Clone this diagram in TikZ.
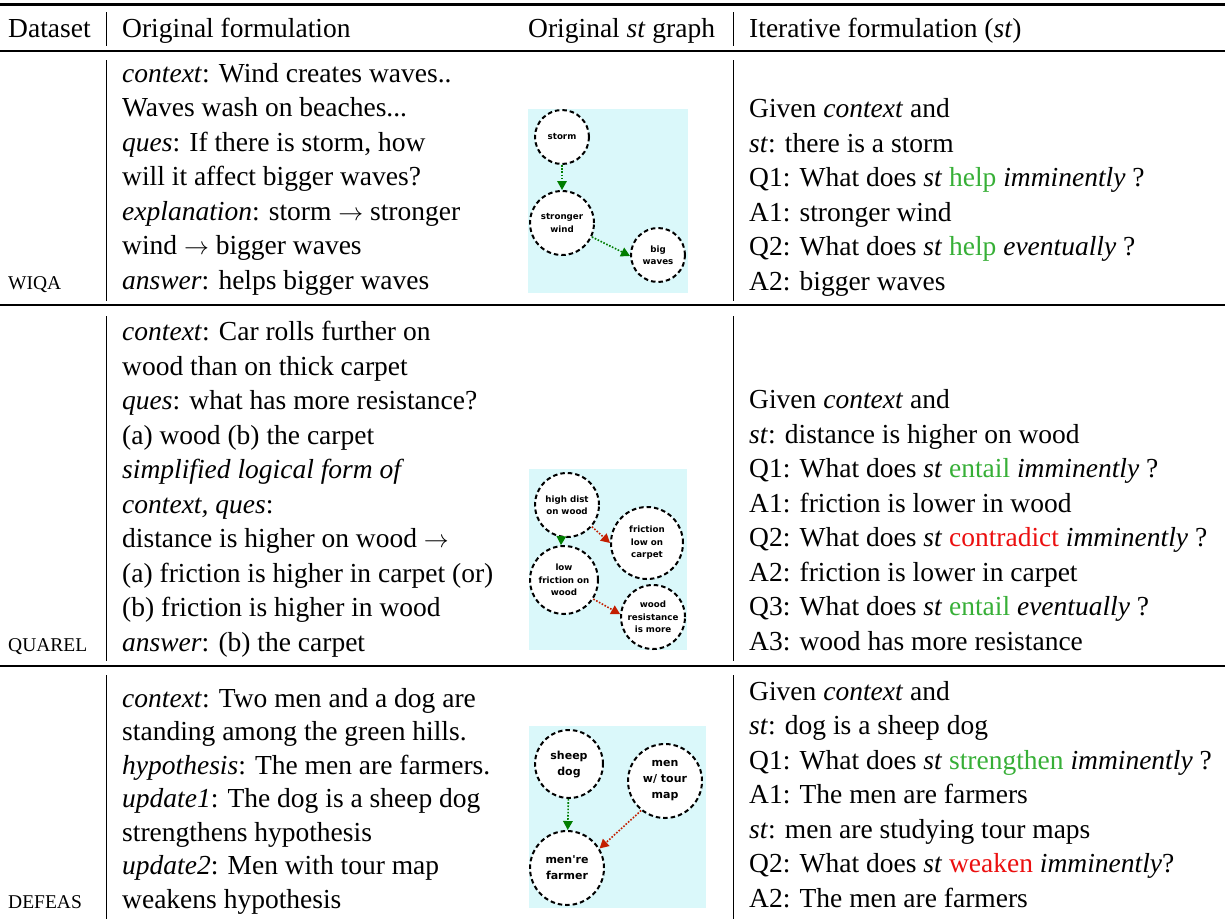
\documentclass[tikz,border=0pt]{standalone}
\usepackage{fontspec}
\setmainfont{Liberation Serif}
\newfontfamily\graphfont{DejaVu Sans}
\usetikzlibrary{positioning, arrows.meta}
\definecolor{graphbg}{RGB}{218,248,250}
\definecolor{arrowgreen}{RGB}{0,125,0}
\definecolor{arrowred}{RGB}{195,30,0}
\definecolor{wordgreen}{RGB}{55,175,55}
\definecolor{wordred}{RGB}{235,15,15}
\tikzstyle{Arrow} = [
%dotted edge with a filled tip
line width = 1.6pt,
dash pattern = on 1.6pt off 1.6pt,
-{Triangle[length = 9pt, width = 9.5pt]}
]
\newcommand{\dset}[1]{{\fontsize{19.5}{20}\selectfont #1}}
\newcommand{\gw}[1]{\textcolor{wordgreen}{#1}}
\newcommand{\rw}[1]{\textcolor{wordred}{#1}}

\begin{document}
\begin{tikzpicture}[x = 1pt, y = -1pt,
				cell/.style = {anchor = base west, align = left, inner sep = 0pt, font = \fontsize{27.5}{34.5}\selectfont},
				rulebar/.style = {line width = 1.5pt},
				colbar/.style = {line width = 0.8pt},
				event/.style = {circle, draw, line width = 2pt, dash pattern = on 4.5pt off 3pt, fill = white, inner sep = 0pt, align = center, font = \graphfont\bfseries\fontsize{8.7}{12.5}\selectfont},
				bigevent/.style = {event, font = \graphfont\bfseries\fontsize{11}{16}\selectfont},
			]
			\useasboundingbox (0,0) rectangle (1225,919);

			% rules and column bars
			\draw[line width = 3pt] (0,4) -- (1225,4);
			\draw[rulebar] (0,51) -- (1225,51);
			\draw[rulebar] (0,305) -- (1225,305);
			\draw[rulebar] (0,666) -- (1225,666);
			\foreach \bx in {106, 733} {
				\draw[colbar] (\bx,12) -- (\bx,46);
				\draw[colbar] (\bx,60) -- (\bx,301);
				\draw[colbar] (\bx,316) -- (\bx,661);
				\draw[colbar] (\bx,675) -- (\bx,919);
			}

			% header
			\node[cell] (hset) at (8,37) {Dataset};
			\node[cell] (horig) at (122,37) {Original formulation};
			\node[cell] (hgraph) at (528,37) {Original \textit{st} graph};
			\node[cell] (hiter) at (749,37) {Iterative formulation (\textit{st})};

			% WIQA (cells hang on their last baseline)
			\node[cell] (wiqa) at (8,289) {\dset{WIQA}};
			\node[cell] (worig) at (122,289) {\textit{context}: Wind creates waves..\\
				Waves wash on beaches...\\
				\textit{ques}: If there is storm, how\\
				will it affect bigger waves?\\
				\textit{explanation}: storm $\rightarrow$ stronger\\
				wind $\rightarrow$ bigger waves\\
				\textit{answer}: helps bigger waves};
			\node[cell] (witer) at (749,290) {Given \textit{context} and\\
				\textit{st}: there is a storm\\
				Q1: What does \textit{st} \gw{help} \textit{imminently} ?\\
				A1: stronger wind\\
				Q2: What does \textit{st} \gw{help} \textit{eventually} ?\\
				A2: bigger waves};
			\fill[graphbg] (528,109) rectangle (688,293);
			\node[event, minimum size = 54pt] (storm) at (562,137) {storm};
			\node[event, minimum size = 64pt] (wind) at (562,223) {stronger\\wind};
			\node[event, minimum size = 54pt] (waves) at (658,255) {big\\waves};
			\draw[Arrow, arrowgreen] (storm) -- (wind);
			\draw[Arrow, arrowgreen] (wind.-25) -- (waves.182);

			% QUAREL
			\node[cell] (quarel) at (8,651) {\dset{QUAREL}};
			\node[cell] (qorig) at (122,651) {\textit{context}: Car rolls further on\\
				wood than on thick carpet\\
				\textit{ques}: what has more resistance?\\
				(a) wood (b) the carpet\\
				\textit{simplified logical form of}\\
				\textit{context, ques}:\\
				distance is higher on wood $\rightarrow$\\
				(a) friction is higher in carpet (or)\\
				(b) friction is higher in wood\\
				\textit{answer}: (b) the carpet};
			\node[cell] (qiter) at (749,650) {Given \textit{context} and\\
				\textit{st}: distance is higher on wood\\
				Q1: What does \textit{st} \gw{entail} \textit{imminently} ?\\
				A1: friction is lower in wood\\
				Q2: What does \textit{st} \rw{contradict} \textit{imminently} ?\\
				A2: friction is lower in carpet\\
				Q3: What does \textit{st} \gw{entail} \textit{eventually} ?\\
				A3: wood has more resistance};
			\fill[graphbg] (529,469) rectangle (687,650);
			\node[event, minimum size = 64pt] (dist) at (567,505) {high dist\\on wood};
			\node[event, minimum size = 72pt] (carpet) at (647,543) {friction\\low on\\carpet};
			\node[event, minimum size = 68pt] (lowfr) at (564,580) {low\\friction on\\wood};
			\node[event, minimum size = 64pt] (resist) at (653,617) {wood\\resistance\\is more};
			\draw[Arrow, arrowgreen] (dist.-100) -- (lowfr.95);
			\draw[Arrow, arrowred] (dist.-41) -- (carpet.180);
			\draw[Arrow, arrowred] (lowfr.-33) -- (resist.175);

			% DEFEAS
			\node[cell] (defeas) at (8,908) {\dset{DEFEAS}};
			\node[cell, font = \fontsize{27.5}{33.5}\selectfont] (dorig) at (122,908) {\textit{context}: Two men and a dog are\\
				standing among the green hills.\\
				\textit{hypothesis}: The men are farmers.\\
				\textit{update1}: The dog is a sheep dog\\
				strengthens hypothesis\\
				\textit{update2}: Men with tour map\\
				weakens hypothesis};
			\node[cell] (diter) at (749,907) {Given \textit{context} and\\
				\textit{st}: dog is a sheep dog\\
				Q1: What does \textit{st} \gw{strengthen} \textit{imminently} ?\\
				A1: The men are farmers\\
				\textit{st}: men are studying tour maps\\
				Q2: What does \textit{st} \rw{weaken} \textit{imminently}?\\
				A2: The men are farmers};
			\fill[graphbg] (529,726) rectangle (706,908);
			\node[bigevent, minimum size = 68pt] (sheep) at (569,764) {sheep\\dog};
			\node[bigevent, minimum size = 74pt] (tour) at (665,781) {men\\w/ tour\\map};
			\node[bigevent, minimum size = 74pt] (farmer) at (567,868) {men're\\farmer};
			\draw[Arrow, arrowgreen] (sheep) -- (farmer);
			\draw[Arrow, arrowred] (tour.231) -- (farmer.31);
		\end{tikzpicture}
\end{document}
